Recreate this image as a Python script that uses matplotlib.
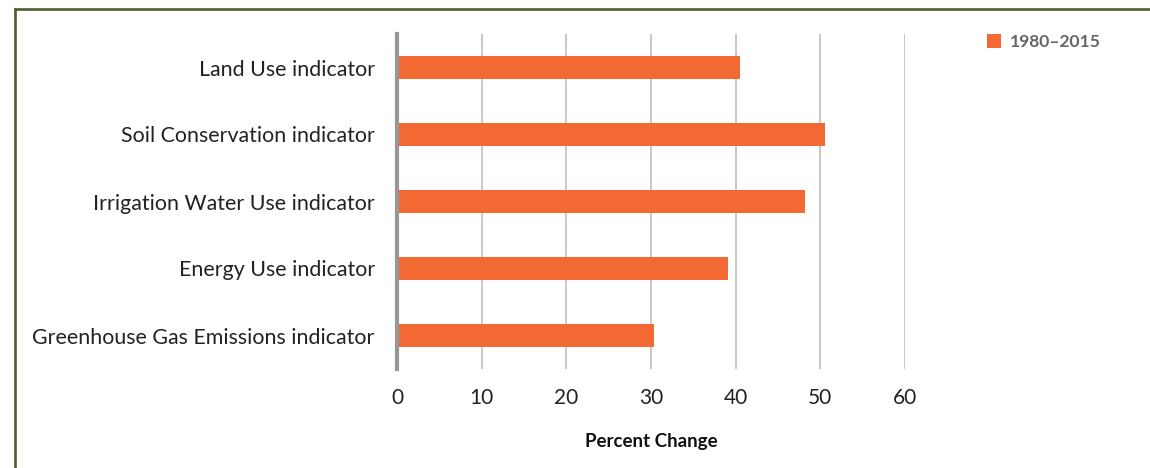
import matplotlib
matplotlib.use("Agg")
import matplotlib.pyplot as plt
from matplotlib.patches import Patch
from matplotlib.lines import Line2D

categories = [
    "Land Use indicator",
    "Soil Conservation indicator",
    "Irrigation Water Use indicator",
    "Energy Use indicator",
    "Greenhouse Gas Emissions indicator",
]
pct_change = [40.5, 50.5, 48.2, 39.1, 30.3]
series_label = "1980\u20132015"
x_ticks = [0, 10, 20, 30, 40, 50, 60]
x_label = "Percent Change"

BAR = "#f26934"
GRID = "#b9b9b9"
ZERO = "#979797"
FRAME = "#4b5e2b"

plt.rcParams["font.family"] = ["Lato", "DejaVu Sans"]

W, H = 1150, 468
fig = plt.figure(figsize=(W / 100, H / 100), dpi=100)
fig.patch.set_facecolor("white")

ax = fig.add_axes([397 / W, 1 - 369 / H, (905.5 - 397) / W, (369 - 34) / H])
ypos = list(range(len(categories)))
ax.barh(ypos, pct_change, height=0.33, color=BAR, zorder=3)
ax.set_ylim(len(categories) - 0.5, -0.5)
ax.set_xlim(0, 60.05)
ax.set_xticks(x_ticks)
ax.set_xticklabels([str(t) for t in x_ticks], fontsize=15, color="#222222")
ax.set_yticks(ypos)
ax.set_yticklabels(categories, fontsize=15.4, color="#222222")
ax.tick_params(axis="both", length=0)
ax.tick_params(axis="x", pad=14)
ax.tick_params(axis="y", pad=16)
for s in ax.spines.values():
    s.set_visible(False)
ax.xaxis.grid(True, color=GRID, linewidth=1.1, zorder=1)
ax.axvline(0, color=ZERO, linewidth=3.0, zorder=4, clip_on=False)
ax.set_xlabel(x_label, fontsize=13.5, fontweight="bold", color="#111111", labelpad=18)

fig.legend(
    handles=[Patch(facecolor=BAR, edgecolor="none", label=series_label)],
    loc="upper left",
    bbox_to_anchor=(980 / W, 1 - 27 / H),
    frameon=False,
    prop={"size": 12.6, "weight": "bold"},
    labelcolor="#666666",
    handlelength=0.8,
    handleheight=0.8,
    handletextpad=0.5,
    borderaxespad=0,
)

# olive frame running along the left and top edges
fx = 15.3 / W
fy = 1 - 9 / H
fig.add_artist(Line2D([fx, fx], [0, fy], transform=fig.transFigure, color=FRAME, linewidth=1.9, solid_capstyle="projecting"))
fig.add_artist(Line2D([fx, 1], [fy, fy], transform=fig.transFigure, color=FRAME, linewidth=1.9, solid_capstyle="projecting"))

fig.savefig("out.png", dpi=100)
